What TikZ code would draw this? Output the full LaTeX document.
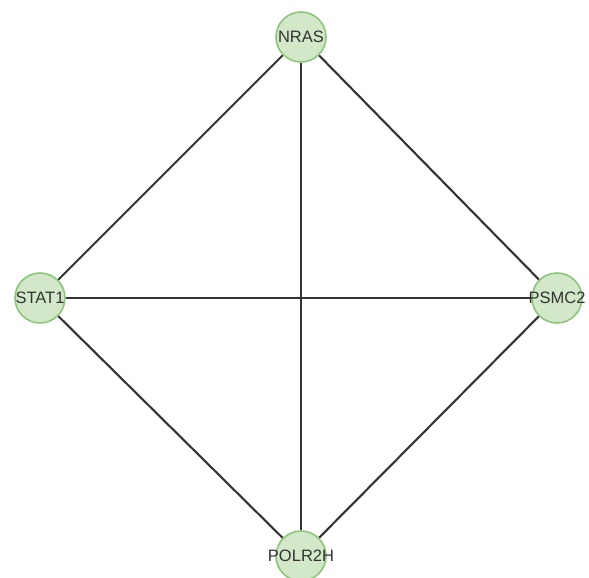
\documentclass[tikz,border=0pt]{standalone}
\usepackage{fontspec}
\setmainfont{Liberation Sans}
\usetikzlibrary{backgrounds}
\definecolor{nodefill}{HTML}{D3E8C9}
\definecolor{nodeline}{HTML}{8DC57C}
\definecolor{edgecol}{HTML}{333333}
\definecolor{labelcol}{HTML}{333333}
\begin{document}
\begin{tikzpicture}[x=1pt,y=-1pt,
  gene/.style={circle,draw=nodeline,fill=nodefill,line width=1.6pt,
    minimum size=50pt,inner sep=0pt,
    label={[text=labelcol,font=\fontsize{16.5}{18}\selectfont,inner sep=0pt]center:#1}},
  link/.style={draw=edgecol,line width=2.1pt}]
\useasboundingbox (0,0) rectangle (589,578);
% gene nodes; labels may run past the circle
\node[gene=NRAS]   (nras)  at (301,37)  {};
\node[gene=STAT1]  (stat1) at (40,298)  {};
\node[gene=PSMC2]  (psmc2) at (557,298) {};
\node[gene=POLR2H] (polr)  at (301,556) {};
% interactions, drawn beneath the nodes
\begin{scope}[on background layer]
\path[link] (nras) -- (stat1);
\path[link] (nras) -- (psmc2);
\path[link] (nras) -- (polr);
\path[link] (stat1) -- (psmc2);
\path[link] (stat1) -- (polr);
\path[link] (psmc2) -- (polr);
\end{scope}
\end{tikzpicture}
\end{document}
